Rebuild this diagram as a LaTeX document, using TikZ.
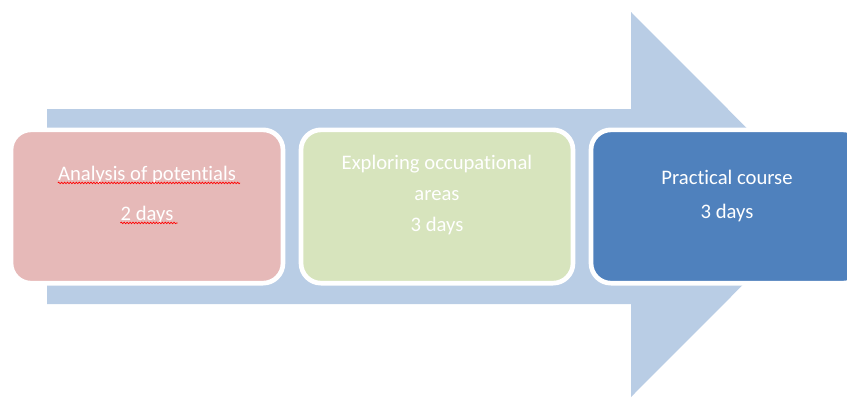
\documentclass[tikz,border=0pt]{standalone}
\usepackage[dvipsnames]{xcolor}
\usepackage{fontspec}
\setmainfont[Ligatures={NoCommon}]{Carlito}
\usepackage{tikz}
\usetikzlibrary{positioning, decorations.pathmorphing}
\definecolor{arrowblue}{HTML}{B9CDE5}
\definecolor{boxrose}{HTML}{E6B9B8}
\definecolor{boxgreen}{HTML}{D7E4BD}
\definecolor{boxblue}{HTML}{4F81BD}
\tikzset{pbox/.style={draw=white, line width=3.5pt, rounded corners=15pt, inner sep=0pt, minimum width=204pt, minimum height=115pt}}
\tikzset{ptext/.style={text=white, align=center, inner sep=0pt, font=\fontsize{15.5}{23.5}\selectfont}}
\tikzset{squiggle/.style={draw=red, line width=0.5pt, decorate, decoration={snake, segment length=2.2pt, amplitude=0.6pt}}}

\begin{document}
\begin{tikzpicture}
		[x=0.75pt, y=-0.75pt]
		\useasboundingbox (0,0) rectangle (847,397);
		% the big arrow behind
		\fill[arrowblue] (47,109) -- (631,109) -- (631,12) -- (823,204.5)
			-- (631,397) -- (631,304) -- (47,304) -- cycle;
		\node[pbox, fill=boxrose] (P) at (147,206.5) {};
		\node[pbox, fill=boxgreen, right=10pt of P] (E) {};
		\node[pbox, fill=boxblue, right=10pt of E] (C) {};
		% texts
		\node[ptext] (Pa) at ([yshift=23.5pt]P.center) {Analysis of potentials};
		\node[ptext] (Pd) at ([yshift=-6.5pt]P.center) {2 days};
		\draw[squiggle] ([yshift=1pt]Pa.south west) -- ([xshift=3pt, yshift=1pt]Pa.south east);
		\draw[squiggle] ([yshift=1pt]Pd.south west) -- ([xshift=3pt, yshift=1pt]Pd.south east);
		\node[ptext] (Et) at ([yshift=8.75pt]E.center)
			{Exploring occupational\\areas\\3 days};
		\node[ptext] (Ct) at ([yshift=8pt]C.center)
			{Practical course\\[2pt]3 days};
\end{tikzpicture}
\end{document}
